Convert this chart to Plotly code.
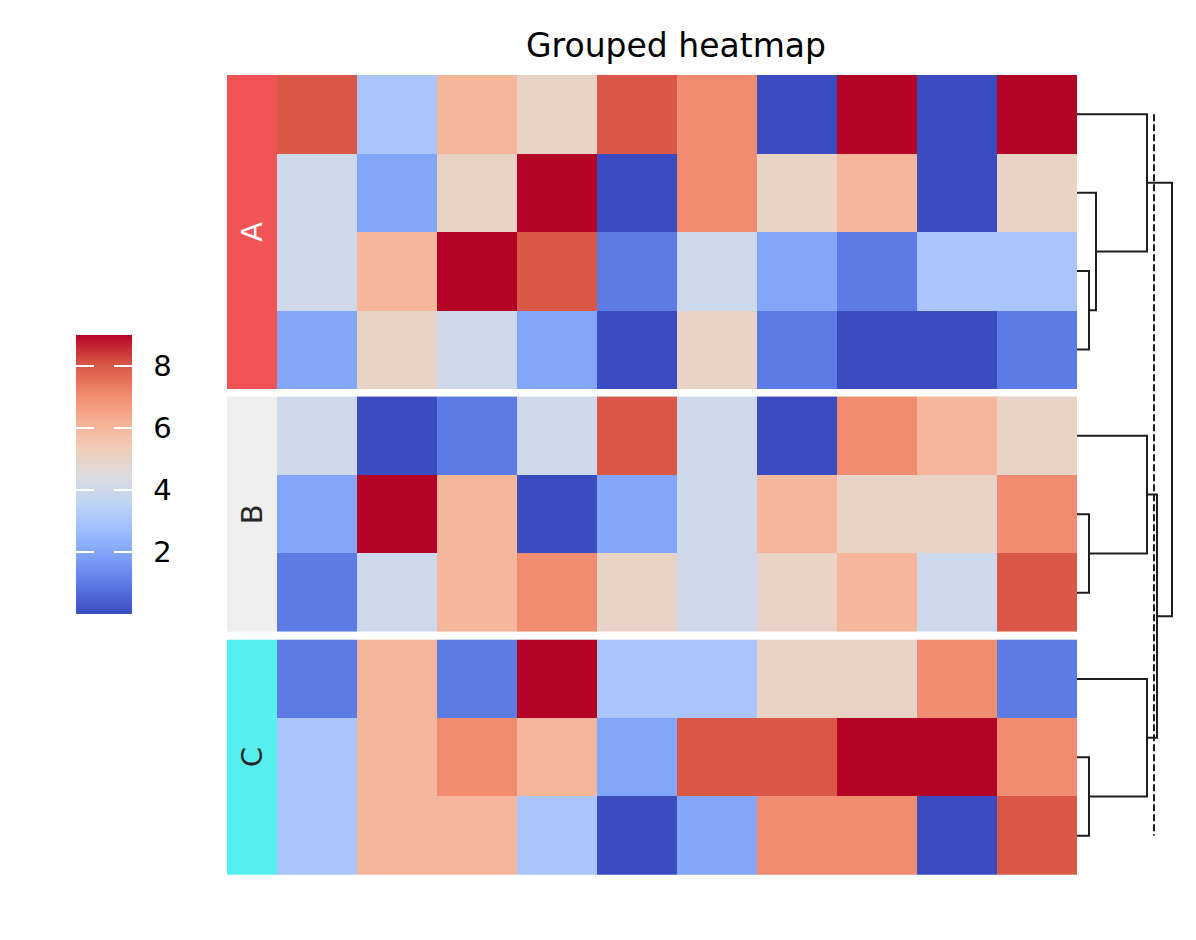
import plotly.graph_objects as go

W, H = 1196, 940

# ---------------- data ----------------
groups = ["A", "B", "C"]
group_colors = ["#f05454", "#efefef", "#55f0ee"]
group_label_colors = ["white", "#262626", "#262626"]
columns = ["c0", "c1", "c2", "c3", "c4", "c5", "c6", "c7", "c8", "c9"]

values_A = [
    [8, 3, 6, 5, 8, 7, 0, 9, 0, 9],
    [4, 2, 5, 9, 0, 7, 5, 6, 0, 5],
    [4, 6, 9, 8, 1, 4, 2, 1, 3, 3],
    [2, 5, 4, 2, 0, 5, 1, 0, 0, 1],
]
values_B = [
    [4, 0, 1, 4, 8, 4, 0, 7, 6, 5],
    [2, 9, 6, 0, 2, 4, 6, 5, 5, 7],
    [1, 4, 6, 7, 5, 4, 5, 6, 4, 8],
]
values_C = [
    [1, 6, 1, 9, 3, 3, 5, 5, 7, 1],
    [3, 6, 7, 6, 2, 8, 8, 9, 9, 7],
    [3, 6, 6, 3, 0, 2, 7, 7, 0, 8],
]
group_values = [values_A, values_B, values_C]

# linkage within each group: (left, right, height); new clusters numbered from n
link_A = [(2, 3, 12), (1, 4, 19), (0, 5, 70)]
link_B = [(1, 2, 12), (0, 3, 70)]
link_C = [(1, 2, 12), (0, 3, 70)]
group_links = [link_A, link_B, link_C]
# linkage between groups (group roots are leaves 0..2)
link_groups = [(1, 2, 80), (0, 3, 95)]
cut_height = 77

tick_vals = [2, 4, 6, 8]
vmin, vmax = 0, 9

coolwarm = [
    [0.0, "#3b4cc0"], [0.1, "#5977e3"], [0.2, "#7b9ff9"], [0.3, "#9ebeff"],
    [0.4, "#c0d4f5"], [0.5, "#dddcdc"], [0.6, "#f2cbb7"], [0.7, "#f7ac8e"],
    [0.8, "#ee8468"], [0.9, "#d65244"], [1.0, "#b40426"],
]

# ---------------- geometry ----------------
FONT = "DejaVu Sans"
LINE = "#1f1f1f"
gap = 0.1
row_centers = []
offset = 0.0
for vals in group_values:
    n = len(vals)
    row_centers.append([offset + i + 0.5 for i in range(n)])
    offset += n + gap
total_rows = offset - gap

y_top_px, y_bot_px = 75, 875
ydom = [(H - y_bot_px) / H, (H - y_top_px) / H]

fig = go.Figure()

# heatmap blocks
for vals, ys in zip(group_values, row_centers):
    fig.add_trace(go.Heatmap(
        z=vals, x=columns, y=ys, coloraxis="coloraxis",
        xaxis="x", yaxis="y", hoverongaps=False,
    ))

# group annotation strip
for g, vals, ys, c, lc in zip(groups, group_values, row_centers, group_colors, group_label_colors):
    fig.add_trace(go.Heatmap(
        z=[[1] for _ in vals], x=[0], y=ys,
        colorscale=[[0, c], [1, c]], showscale=False,
        xaxis="x2", yaxis="y", hoverinfo="skip",
    ))
    fig.add_annotation(
        x=0, y=sum(ys) / len(ys), xref="x2", yref="y", text=g,
        textangle=-90, showarrow=False,
        font=dict(family=FONT, size=29, color=lc),
    )

# dendrogram
def dendro(link, leaf_pos, leaf_h):
    pos = list(leaf_pos)
    hts = list(leaf_h)
    xs, ys = [], []
    for l, r, h in link:
        xs += [hts[l], h, h, hts[r], None]
        ys += [pos[l], pos[l], pos[r], pos[r], None]
        pos.append((pos[l] + pos[r]) / 2)
        hts.append(h)
    return xs, ys, pos[-1], hts[-1]

dx, dy = [], []
roots_pos, roots_h = [], []
for link, ys in zip(group_links, row_centers):
    xs_, ys_, rp, rh = dendro(link, ys, [0] * len(ys))
    dx += xs_
    dy += ys_
    roots_pos.append(rp)
    roots_h.append(rh)
xs_, ys_, _, _ = dendro(link_groups, roots_pos, roots_h)
dx += xs_
dy += ys_

fig.add_trace(go.Scatter(
    x=dx, y=dy, mode="lines", line=dict(color=LINE, width=2),
    xaxis="x3", yaxis="y", hoverinfo="skip", showlegend=False,
))
fig.add_trace(go.Scatter(
    x=[cut_height, cut_height], y=[row_centers[0][0], row_centers[-1][-1]],
    mode="lines", line=dict(color=LINE, width=2, dash="7px,3px"),
    xaxis="x3", yaxis="y", hoverinfo="skip", showlegend=False,
))

# colorbar geometry
cb_x0, cb_x1 = 76, 132
cb_top, cb_bot = 335, 614
cb_len = cb_bot - cb_top
cb_yc = (H - (cb_top + cb_bot) / 2) / H
tick_len = 13
arrow_clip = 6  # part of the arrow hidden behind the (empty) annotation box

# white tick marks on both inner edges of the colorbar
for v in tick_vals:
    yp = (H - cb_bot + (v - vmin) / (vmax - vmin) * cb_len) / H
    for xe, sgn in ((cb_x0, 1), (cb_x1, -1)):
        fig.add_annotation(
            x=xe / W, y=yp, xref="paper", yref="paper",
            text="", width=1, height=1, borderpad=0,
            showarrow=True, ax=sgn * (tick_len + arrow_clip), ay=0,
            arrowhead=0, arrowwidth=2, arrowcolor="white",
            standoff=0, startstandoff=0,
        )

fig.update_layout(
    width=W, height=H,
    margin=dict(l=0, r=0, t=0, b=0),
    paper_bgcolor="white", plot_bgcolor="white",
    font=dict(family=FONT, color="black"),
    showlegend=False,
    title=dict(text="Grouped heatmap", x=676 / W, xanchor="center",
               y=1 - 45 / H, yanchor="middle",
               font=dict(family=FONT, size=33, color="black")),
    coloraxis=dict(
        colorscale=coolwarm, cmin=vmin, cmax=vmax,
        colorbar=dict(
            x=cb_x0 / W, xanchor="left", xpad=0,
            y=cb_yc, yanchor="middle", ypad=0,
            len=cb_len, lenmode="pixels",
            thickness=cb_x1 - cb_x0, thicknessmode="pixels",
            outlinewidth=0,
            tickvals=tick_vals, ticks="outside", ticklen=16,
            tickcolor="rgba(0,0,0,0)", tickwidth=1,
            tickfont=dict(family=FONT, size=29, color="black"),
        ),
    ),
    xaxis=dict(domain=[277 / W, 1077 / W], visible=False, anchor="y",
               range=[-0.5, len(columns) - 0.5]),
    xaxis2=dict(domain=[227 / W, 277 / W], visible=False, anchor="y",
                range=[-0.5, 0.5]),
    xaxis3=dict(domain=[1077 / W, 1.0], visible=False, anchor="y",
                range=[0, 119]),
    yaxis=dict(domain=ydom, visible=False, range=[total_rows, 0]),
)

fig.write_html("out.html")
